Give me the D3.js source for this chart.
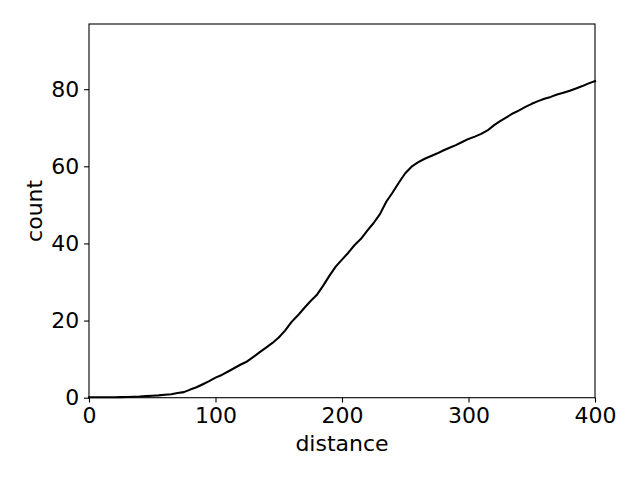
<!DOCTYPE html>
<html>
<head>
<meta charset="utf-8">
<script src="https://cdn.jsdelivr.net/npm/d3@7/dist/d3.min.js"></script>
<style>
  html, body { margin: 0; padding: 0; background: #fff; }
  svg { display: block; }
  text { font-family: "DejaVu Sans", sans-serif; fill: #000; }
</style>
</head>
<body>
<svg id="chart" width="640" height="480"></svg>
<script>
const distance = [0,5,10,15,20,25,30,35,40,45,50,55,60,65,70,75,80,85,90,95,100,105,110,115,120,125,130,135,140,145,150,155,160,165,170,175,180,185,190,195,200,205,210,215,220,225,230,235,240,245,250,255,260,265,270,275,280,285,290,295,300,305,310,315,320,325,330,335,340,345,350,355,360,365,370,375,380,385,390,395,400];
const count = [0.1,0.1,0.1,0.1,0.1,0.15,0.2,0.25,0.3,0.4,0.5,0.6,0.75,0.9,1.2,1.45,2.1,2.7,3.5,4.3,5.2,5.9,6.8,7.7,8.6,9.4,10.6,11.8,13.0,14.2,15.6,17.4,19.6,21.3,23.2,25.0,26.6,29.0,31.6,34.0,35.8,37.6,39.6,41.2,43.3,45.3,47.6,50.8,53.2,55.8,58.2,59.9,61.0,61.9,62.6,63.3,64.1,64.8,65.5,66.3,67.1,67.7,68.4,69.3,70.6,71.7,72.7,73.7,74.5,75.4,76.2,76.9,77.5,78.0,78.6,79.1,79.6,80.2,80.8,81.5,82.1];
const xTicks = [0,100,200,300,400];
const yTicks = [0,20,40,60,80];
const xDomain = [0,400];
const yDomain = [0,96.9];
const xLabel = "distance";
const yLabel = "count";

const svg = d3.select("#chart");
const L = 89, R = 595, T = 24, B = 397.7;
const x = d3.scaleLinear().domain(xDomain).range([L, R]);
const y = d3.scaleLinear().domain(yDomain).range([B, T]);
const fs = 22;

// line
const line = d3.line().x((d,i) => x(distance[i])).y(d => y(d));
svg.append("path")
  .datum(count)
  .attr("d", line)
  .attr("fill", "none")
  .attr("stroke", "#000")
  .attr("stroke-width", 2.08)
  .attr("stroke-linejoin", "round")
  .attr("stroke-linecap", "square");

// axes
const xAxis = d3.axisBottom(x).tickValues(xTicks).tickSize(4.9).tickPadding(4.9).tickFormat(d3.format("d"));
const yAxis = d3.axisLeft(y).tickValues(yTicks).tickSize(4.9).tickPadding(4.9).tickFormat(d3.format("d"));

const gx = svg.append("g").attr("transform", `translate(0,${B})`).call(xAxis);
const gy = svg.append("g").attr("transform", `translate(${L},0)`).call(yAxis);
[gx, gy].forEach(g => {
  g.select(".domain").remove();
  g.selectAll(".tick line").attr("stroke", "#000").attr("stroke-width", 1.1);
  g.selectAll(".tick text").attr("font-size", fs).attr("font-family", "DejaVu Sans").attr("fill", "#000");
});

// frame
svg.append("rect")
  .attr("x", L).attr("y", T)
  .attr("width", R - L).attr("height", B - T)
  .attr("fill", "none").attr("stroke", "#000").attr("stroke-width", 1.1);

// labels
svg.append("text")
  .attr("x", (L + R) / 2).attr("y", 451)
  .attr("text-anchor", "middle")
  .attr("font-size", fs)
  .text(xLabel);
svg.append("text")
  .attr("transform", `translate(42,${(T + B) / 2}) rotate(-90)`)
  .attr("text-anchor", "middle")
  .attr("font-size", fs)
  .text(yLabel);
</script>
</body>
</html>
